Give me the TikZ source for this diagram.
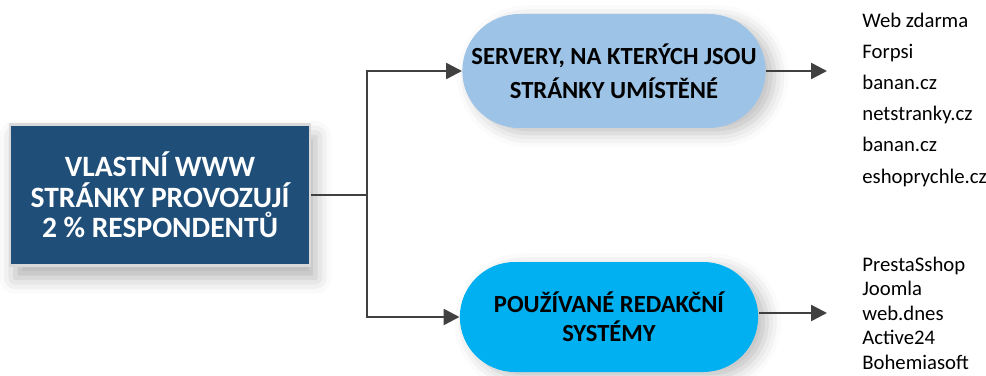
\documentclass[tikz,border=0pt]{standalone}
\usepackage{fontspec}
\setmainfont{Carlito}
\usepackage{tikz}
\usetikzlibrary{arrows.meta, shapes.misc, shadows.blur}
\definecolor{boxNavy}{RGB}{31, 78, 121}
\definecolor{pillLight}{RGB}{157, 195, 230}
\definecolor{pillCyan}{RGB}{0, 176, 240}
\definecolor{lineGrey}{RGB}{64, 64, 64}

\begin{document}
\begin{tikzpicture}[x=0.2mm, y=-0.2mm,
    mainbox/.style={rectangle, draw=black!15, line width=1.5pt, fill=boxNavy, text=white,
        minimum width=6cm, minimum height=2.82cm, align=center,
        font=\fontsize{16.8}{17.3}\selectfont\bfseries,
        blur shadow={shadow xshift=3pt, shadow yshift=-7pt, shadow blur radius=9pt, shadow opacity=30}},
    pill/.style={rounded rectangle, minimum width=6.3cm, minimum height=2.28cm, align=center,
        blur shadow={shadow xshift=5pt, shadow yshift=-3pt, shadow blur radius=8pt, shadow opacity=25}},
    item/.style={anchor=base west, inner sep=0pt, font=\fontsize{11.8}{14}\selectfont},
    arr/.style={-{Triangle[length=9pt, width=9pt]}, line width=1.4pt, lineGrey}
]
\useasboundingbox (0,0) rectangle (986,376);

\node[mainbox] (vlast) at (160,195) {VLASTNÍ WWW\\STRÁNKY PROVOZUJÍ\\2 \% RESPONDENTŮ};
\node[pill, fill=pillLight, font=\fontsize{14}{19.5}\selectfont\bfseries] (srv) at (614,71)
    {SERVERY, NA KTERÝCH JSOU\\STRÁNKY UMÍSTĚNÉ};
\node[pill, fill=pillCyan, minimum width=6.2cm, minimum height=2.2cm,
    font=\fontsize{14}{16.5}\selectfont\bfseries] (cms) at (609,317)
    {POUŽÍVANÉ REDAKČNÍ\\SYSTÉMY};

% splitting connector
\coordinate (split) at (367,195);
\draw[line width=1.4pt, lineGrey] (vlast) -- (split);
\foreach \b in {srv, cms}
    \draw[arr] (split) |- (\b);

% arrows to the lists
\coordinate (srvEnd) at (827,71);
\coordinate (cmsEnd) at (827,313);
\draw[arr] (srv.east |- srvEnd) -- (srvEnd);
\draw[arr] (cms.east |- cmsEnd) -- (cmsEnd);

\foreach \t [count=\i] in {Web zdarma, Forpsi, banan.cz, netstranky.cz, banan.cz, eshoprychle.cz}
    \node[item] (host\i) at (862, {28+31*(\i-1)}) {\t};
\foreach \t [count=\i] in {PrestaSshop, Joomla, web.dnes, Active24, Bohemiasoft}
    \node[item] (sys\i) at (862, {271+24.5*(\i-1)}) {\t};
\end{tikzpicture}
\end{document}
